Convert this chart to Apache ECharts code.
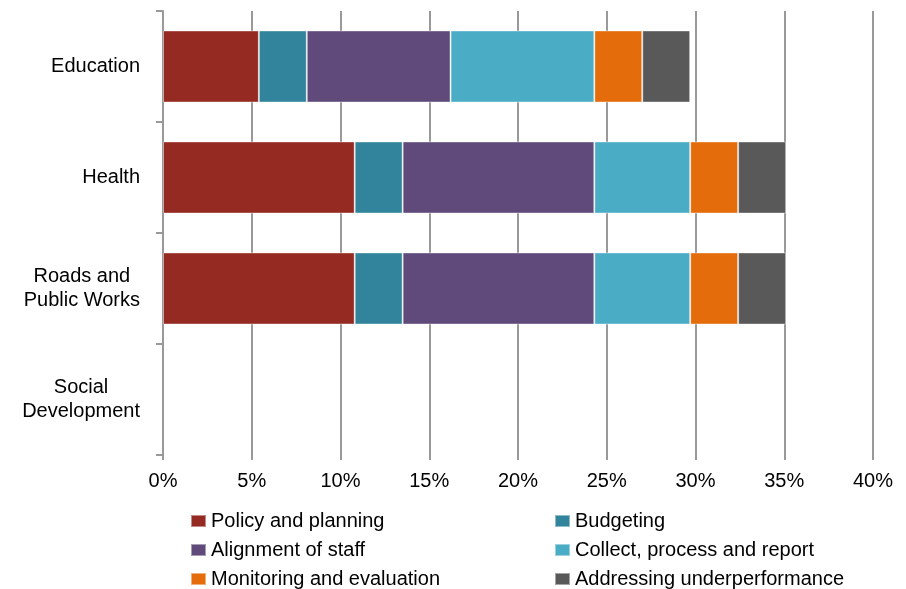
<!DOCTYPE html>
<html>
<head>
<meta charset="utf-8">
<title>Stacked bars</title>
<script src="https://cdn.jsdelivr.net/npm/echarts@6/dist/echarts.min.js"></script>
<style>
	html, body { margin: 0; padding: 0; background: #fff; }
	#chart { width: 906px; height: 589px; }
</style>
</head>
<body>
<div id="chart"></div>
<script>
	// categories, top to bottom
	var categories = ['Education', 'Health', 'Roads and\nPublic Works', 'Social\nDevelopment'];
	var xTicks = [0, 5, 10, 15, 20, 25, 30, 35, 40];

	// share of responses (%) per category
	var policyPlanning = [5.4, 10.8, 10.8, null];
	var budgeting = [2.7, 2.7, 2.7, null];
	var alignmentStaff = [8.1, 10.8, 10.8, null];
	var collectReport = [8.1, 5.4, 5.4, null];
	var monitoringEval = [2.7, 2.7, 2.7, null];
	var addressingUnder = [2.7, 2.7, 2.7, null];

	var seriesNames = [
		'Policy and planning', 'Budgeting', 'Alignment of staff',
		'Collect, process and report', 'Monitoring and evaluation', 'Addressing underperformance'
	];
	var seriesData = [policyPlanning, budgeting, alignmentStaff, collectReport, monitoringEval, addressingUnder];
	var colors = ['#952a22', '#31849b', '#604a7b', '#4bacc6', '#e46c0a', '#595959'];

	var font = 'Liberation Sans, Arial, sans-serif';
	var gridColor = '#999999';

	var chart = echarts.init(document.getElementById('chart'), null, { renderer: 'canvas' });

	var series = seriesNames.map(function (name, i) {
		return {
			name: name,
			type: 'bar',
			stack: 'total',
			barCategoryGap: '35%',
			itemStyle: { color: colors[i], borderColor: 'rgba(255,255,255,0.45)', borderWidth: 1 },
			data: seriesData[i]
		};
	});

	var legendText = { fontFamily: font, fontSize: 20, color: '#000', lineHeight: 20 };

	var option = {
		animation: false,
		color: colors,
		grid: { left: 163, right: 33, top: 11, bottom: 134, containLabel: false },
		legend: [
			{
				orient: 'vertical', left: 190, top: 511, padding: 0, height: 100, itemWidth: 15, itemHeight: 12, itemGap: 9,
				icon: 'rect', textStyle: legendText,
				data: [seriesNames[0], seriesNames[2], seriesNames[4]]
			},
			{
				orient: 'vertical', left: 554, top: 511, padding: 0, height: 100, itemWidth: 15, itemHeight: 12, itemGap: 9,
				icon: 'rect', textStyle: legendText,
				data: [seriesNames[1], seriesNames[3], seriesNames[5]]
			}
		],
		xAxis: {
			type: 'value',
			min: xTicks[0],
			max: xTicks[xTicks.length - 1],
			interval: 5,
			axisLine: { show: false },
			axisTick: { show: true, length: 5, lineStyle: { color: gridColor, width: 2 } },
			splitLine: { show: true, lineStyle: { color: gridColor, width: 2 } },
			axisLabel: { formatter: '{value}%', fontFamily: font, fontSize: 20, color: '#000', margin: 16 }
		},
		yAxis: {
			type: 'category',
			inverse: true,
			data: categories,
			axisLine: { show: true, lineStyle: { color: gridColor, width: 2 } },
			axisTick: { show: true, length: 7, lineStyle: { color: gridColor, width: 2 } },
			axisLabel: {
				margin: 23,
				fontFamily: font,
				fontSize: 20,
				color: '#000',
				lineHeight: 24,
				formatter: function (v) {
					return v.split('\n').map(function (s) { return '{c|' + s + '}'; }).join('\n');
				},
				rich: {
					c: { align: 'center', fontFamily: font, fontSize: 20, color: '#000', lineHeight: 24 }
				}
			}
		},
		series: series
	};

	chart.setOption(option);
</script>
</body>
</html>
